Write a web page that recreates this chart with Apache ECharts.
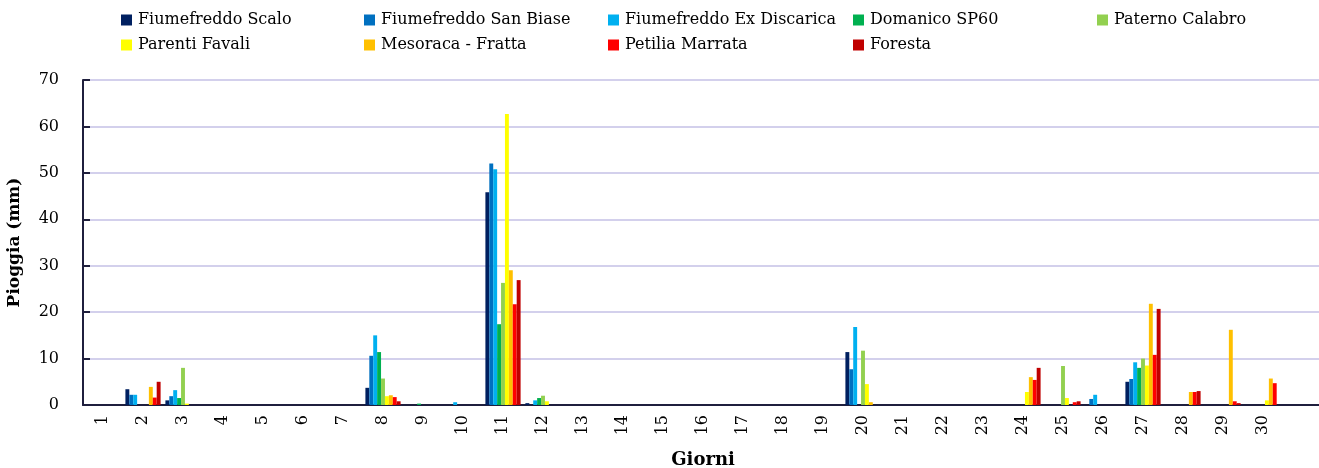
<!DOCTYPE html>
<html>
<head>
<meta charset="utf-8">
<script src="https://cdn.jsdelivr.net/npm/echarts@6/dist/echarts.min.js"></script>
<style>html,body{margin:0;padding:0;background:#fff;overflow:hidden;}#c{width:1323px;height:468px;}</style>
</head>
<body>
<div id="c"></div>
<script>
// Days (31st category has no label)
const days = ['1','2','3','4','5','6','7','8','9','10','11','12','13','14','15','16','17','18','19','20','21','22','23','24','25','26','27','28','29','30',''];
const seriesNames = ['Fiumefreddo Scalo','Fiumefreddo San Biase','Fiumefreddo Ex Discarica','Domanico SP60','Paterno Calabro','Parenti Favali','Mesoraca - Fratta','Petilia Marrata','Foresta'];
const seriesColors = ['#002060','#0070C0','#00B0F0','#00B050','#92D050','#FFFF00','#FFC000','#FF0000','#C00000'];
const yTicks = [0,10,20,30,40,50,60,70];

//                         1  2    3    4 5 6 7 8    9    10   11   12   13..19        20   21 22 23 24  25   26   27   28   29   30   31
const fiumefreddoScalo  = [0, 3.4, 1.0, 0,0,0,0, 3.7, 0,   0,   45.8, 0.4, 0,0,0,0,0,0,0, 11.4, 0,0,0, 0,   0,   0,   5.0, 0,   0,   0,   0];
const fiumefreddoSanBiase=[0, 2.2, 1.9, 0,0,0,0, 10.6,0,   0,   52.0, 0,   0,0,0,0,0,0,0, 7.7,  0,0,0, 0,   0,   1.3, 5.6, 0,   0,   0,   0];
const fiumefreddoExDisc = [0, 2.2, 3.2, 0,0,0,0, 15.0,0,   0.6, 50.8, 1.0, 0,0,0,0,0,0,0, 16.8, 0,0,0, 0,   0,   2.2, 9.2, 0,   0,   0,   0];
const domanicoSP60      = [0, 0,   1.5, 0,0,0,0, 11.4,0.3, 0,   17.4, 1.5, 0,0,0,0,0,0,0, 0,    0,0,0, 0,   0,   0,   8.0, 0,   0,   0,   0];
const paternoCalabro    = [0, 0,   8.0, 0,0,0,0, 5.7, 0,   0,   26.3, 2.0, 0,0,0,0,0,0,0, 11.7, 0,0,0, 0,   8.4, 0,   10.0,0,   0,   0,   0];
const parentiFavali     = [0, 0,   0.3, 0,0,0,0, 1.9, 0,   0,   62.7, 0.8, 0,0,0,0,0,0,0, 4.5,  0,0,0, 2.8, 1.5, 0,   8.5, 0,   0,   1.0, 0];
const mesoracaFratta    = [0, 3.9, 0,   0,0,0,0, 2.1, 0,   0,   29.0, 0,   0,0,0,0,0,0,0, 0.6,  0,0,0, 6.0, 0,   0,   21.8,2.8, 16.2,5.7, 0];
const petiliaMarrata    = [0, 1.6, 0,   0,0,0,0, 1.7, 0,   0,   21.7, 0,   0,0,0,0,0,0,0, 0,    0,0,0, 5.4, 0.6, 0,   10.8,2.8, 0.8, 4.7, 0];
const foresta           = [0, 5.0, 0,   0,0,0,0, 0.8, 0,   0,   26.9, 0,   0,0,0,0,0,0,0, 0,    0,0,0, 8.0, 0.8, 0,   20.7,3.0, 0.4, 0,   0];

const seriesData = [fiumefreddoScalo, fiumefreddoSanBiase, fiumefreddoExDisc, domanicoSP60, paternoCalabro, parentiFavali, mesoracaFratta, petiliaMarrata, foresta];

const FONT = "'DejaVu Serif', serif";
const legendPos = [[121,12],[364,12],[608,12],[853,12],[1097,12],[121,37],[364,37],[608,37],[853,37]];

const chart = echarts.init(document.getElementById('c'), null, {renderer:'canvas', width:1323, height:468});
chart.setOption({
  animation: false,
  backgroundColor: '#fff',
  color: seriesColors,
  legend: seriesNames.map((n,i)=>({
    data:[n], left: legendPos[i][0], top: legendPos[i][1], padding: 0,
    icon:'rect', itemWidth: 11, itemHeight: 11, itemGap: 4,
    textStyle:{fontFamily: FONT, fontSize: 16, color:'#000', padding:[0,0,0,1]}
  })),
  grid: {left: 83, top: 80, right: 0, bottom: 63, containLabel: false, outerBoundsMode: 'none'},
  xAxis: {
    type: 'category', data: days,
    name: 'Giorni', nameLocation: 'middle', nameGap: 46,
    nameTextStyle: {fontFamily: FONT, fontSize: 18, fontWeight: 'bold', color:'#000'},
    axisLine: {lineStyle:{color:'#1f1f3d', width:2}},
    axisTick: {inside: true, length: 8, lineStyle:{color:'#1f1f3d', width:2}, alignWithLabel:false},
    axisLabel: {rotate: 90, interval: 0, margin: 10, fontFamily: FONT, fontSize: 16, color:'#000'},
    splitLine: {show:false}
  },
  yAxis: {
    type: 'value', min: 0, max: 70, interval: 10,
    name: 'Pioggia (mm)', nameLocation: 'middle', nameGap: 60, nameRotate: 90,
    nameTextStyle: {fontFamily: FONT, fontSize: 17, fontWeight: 'bold', color:'#000'},
    axisLine: {show:true, lineStyle:{color:'#1f1f3d', width:2}},
    axisTick: {show:true, inside:true, length: 7, lineStyle:{color:'#1f1f3d', width:2}},
    axisLabel: {margin: 24, fontFamily: FONT, fontSize: 16, color:'#000',
      formatter: v => yTicks.includes(v) ? String(v) : ''},
    splitLine: {lineStyle:{color:'#d3d0ec', width:2}}
  },
  series: seriesNames.map((n,i)=>({
    name: n, type: 'bar', data: seriesData[i],
    barGap: '0%', barCategoryGap: '12%',
    itemStyle: {color: seriesColors[i]}
  }))
});
</script>
</body>
</html>
